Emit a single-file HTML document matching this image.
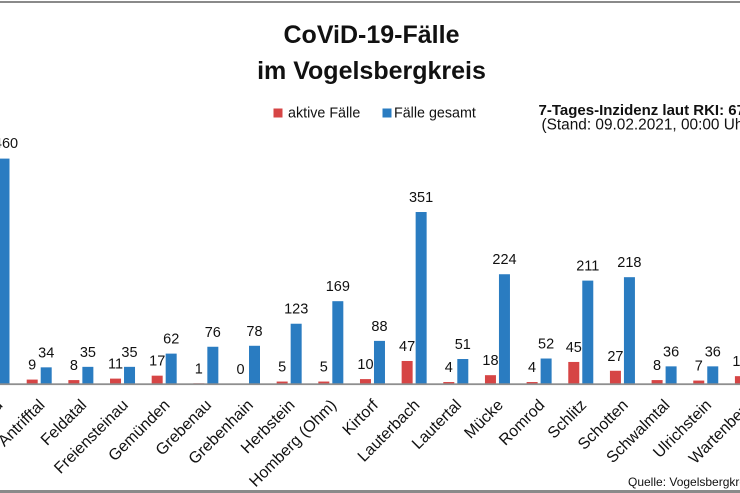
<!DOCTYPE html>
<html><head><meta charset="utf-8"><style>
html,body{margin:0;padding:0;background:#fff;}
svg{display:block;}
</style></head><body>
<svg width="740" height="493" viewBox="0 0 740 493" xmlns="http://www.w3.org/2000/svg" font-family="Liberation Sans, sans-serif">
<rect x="0" y="0" width="740" height="493" fill="#fff"/>
<rect x="0" y="1" width="740" height="2" fill="#8a8a8a"/>
<rect x="0" y="490" width="740" height="3" fill="#8a8a8a"/>
<g font-weight="bold" font-size="25" text-anchor="middle" fill="#111">
<text x="371.5" y="43">CoViD-19-Fälle</text>
<text x="371.5" y="79">im Vogelsbergkreis</text>
</g>
<rect x="273.5" y="108.5" width="9" height="9" fill="#d64545"/>
<text x="288" y="117.5" font-size="14.3" fill="#111">aktive Fälle</text>
<rect x="382.5" y="108.5" width="9" height="9" fill="#2a7cc1"/>
<text x="394" y="117.5" font-size="14.3" fill="#111">Fälle gesamt</text>
<text x="538.5" y="115" font-size="15" font-weight="bold" fill="#111">7-Tages-Inzidenz laut RKI: 67</text>
<text x="541.5" y="129.5" font-size="15.4" fill="#111">(Stand: 09.02.2021, 00:00 Uhr)</text>
<text x="628" y="486" font-size="12" fill="#111">Quelle: Vogelsbergkreis</text>

<g fill="#d64545">
<rect x="26.7" y="379.59" width="11" height="4.41"/>
<rect x="68.36" y="380.08" width="11" height="3.92"/>
<rect x="110.02" y="378.61" width="11" height="5.39"/>
<rect x="151.68" y="375.67" width="11" height="8.33"/>
<rect x="193.34" y="383.3" width="11" height="0.7"/>
<rect x="276.66" y="381.55" width="11" height="2.45"/>
<rect x="318.32" y="381.55" width="11" height="2.45"/>
<rect x="359.98" y="379.1" width="11" height="4.9"/>
<rect x="401.64" y="360.97" width="11" height="23.03"/>
<rect x="443.3" y="382.04" width="11" height="1.96"/>
<rect x="484.96" y="375.18" width="11" height="8.82"/>
<rect x="526.62" y="382.04" width="11" height="1.96"/>
<rect x="568.28" y="361.95" width="11" height="22.05"/>
<rect x="609.94" y="370.77" width="11" height="13.23"/>
<rect x="651.6" y="380.08" width="11" height="3.92"/>
<rect x="693.26" y="380.57" width="11" height="3.43"/>
<rect x="734.92" y="376.16" width="11" height="7.84"/>
</g>
<g fill="#2a7cc1">
<rect x="-1.5" y="158.6" width="11" height="225.4"/>
<rect x="40.7" y="367.34" width="11" height="16.66"/>
<rect x="82.36" y="366.85" width="11" height="17.15"/>
<rect x="124.02" y="366.85" width="11" height="17.15"/>
<rect x="165.68" y="353.62" width="11" height="30.38"/>
<rect x="207.34" y="346.76" width="11" height="37.24"/>
<rect x="249" y="345.78" width="11" height="38.22"/>
<rect x="290.66" y="323.73" width="11" height="60.27"/>
<rect x="332.32" y="301.19" width="11" height="82.81"/>
<rect x="373.98" y="340.88" width="11" height="43.12"/>
<rect x="415.64" y="212.01" width="11" height="171.99"/>
<rect x="457.3" y="359.01" width="11" height="24.99"/>
<rect x="498.96" y="274.24" width="11" height="109.76"/>
<rect x="540.62" y="358.52" width="11" height="25.48"/>
<rect x="582.28" y="280.61" width="11" height="103.39"/>
<rect x="623.94" y="277.18" width="11" height="106.82"/>
<rect x="665.6" y="366.36" width="11" height="17.64"/>
<rect x="707.26" y="366.36" width="11" height="17.64"/>
</g>
<rect x="0" y="383.3" width="740" height="1.8" fill="#8f8f8f"/>

<g font-size="14.5" text-anchor="middle" fill="#111">
<text x="6" y="148">460</text>
<text x="32.2" y="369.6">9</text><text x="46.2" y="357.3">34</text>
<text x="73.9" y="370.1">8</text><text x="87.9" y="356.9">35</text>
<text x="115.5" y="368.6">11</text><text x="129.5" y="356.9">35</text>
<text x="157.2" y="365.7">17</text><text x="171.2" y="343.6">62</text>
<text x="198.8" y="373.5">1</text><text x="212.8" y="336.8">76</text>
<text x="240.5" y="374">0</text><text x="254.5" y="335.8">78</text>
<text x="282.2" y="371.6">5</text><text x="296.2" y="313.7">123</text>
<text x="323.8" y="371.6">5</text><text x="337.8" y="291.2">169</text>
<text x="365.5" y="369.1">10</text><text x="379.5" y="330.9">88</text>
<text x="407.1" y="351">47</text><text x="421.1" y="202">351</text>
<text x="448.8" y="372">4</text><text x="462.8" y="349">51</text>
<text x="490.5" y="365.2">18</text><text x="504.5" y="264.2">224</text>
<text x="532.1" y="372">4</text><text x="546.1" y="348.5">52</text>
<text x="573.8" y="352">45</text><text x="587.8" y="270.6">211</text>
<text x="615.4" y="360.8">27</text><text x="629.4" y="267.2">218</text>
<text x="657.1" y="370.1">8</text><text x="671.1" y="356.4">36</text>
<text x="698.8" y="370.6">7</text><text x="712.8" y="356.4">36</text>
<text x="740.4" y="366.2">16</text>
</g>

<g font-size="16" text-anchor="end" fill="#111">
<text transform="translate(3.5,406) rotate(-45)">Alsfeld</text>
<text transform="translate(45.7,406) rotate(-45)">Antrifftal</text>
<text transform="translate(87.4,406) rotate(-45)">Feldatal</text>
<text transform="translate(129,406) rotate(-45)">Freiensteinau</text>
<text transform="translate(170.7,406) rotate(-45)">Gemünden</text>
<text transform="translate(212.3,406) rotate(-45)">Grebenau</text>
<text transform="translate(254,406) rotate(-45)">Grebenhain</text>
<text transform="translate(295.7,406) rotate(-45)">Herbstein</text>
<text transform="translate(337.3,406) rotate(-45)">Homberg (Ohm)</text>
<text transform="translate(379,406) rotate(-45)">Kirtorf</text>
<text transform="translate(420.6,406) rotate(-45)">Lauterbach</text>
<text transform="translate(462.3,406) rotate(-45)">Lautertal</text>
<text transform="translate(504,406) rotate(-45)">Mücke</text>
<text transform="translate(545.6,406) rotate(-45)">Romrod</text>
<text transform="translate(587.3,406) rotate(-45)">Schlitz</text>
<text transform="translate(628.9,406) rotate(-45)">Schotten</text>
<text transform="translate(670.6,406) rotate(-45)">Schwalmtal</text>
<text transform="translate(712.3,406) rotate(-45)">Ulrichstein</text>
<text transform="translate(753.9,406) rotate(-45)">Wartenberg</text>
</g>
</svg>
</body></html>
